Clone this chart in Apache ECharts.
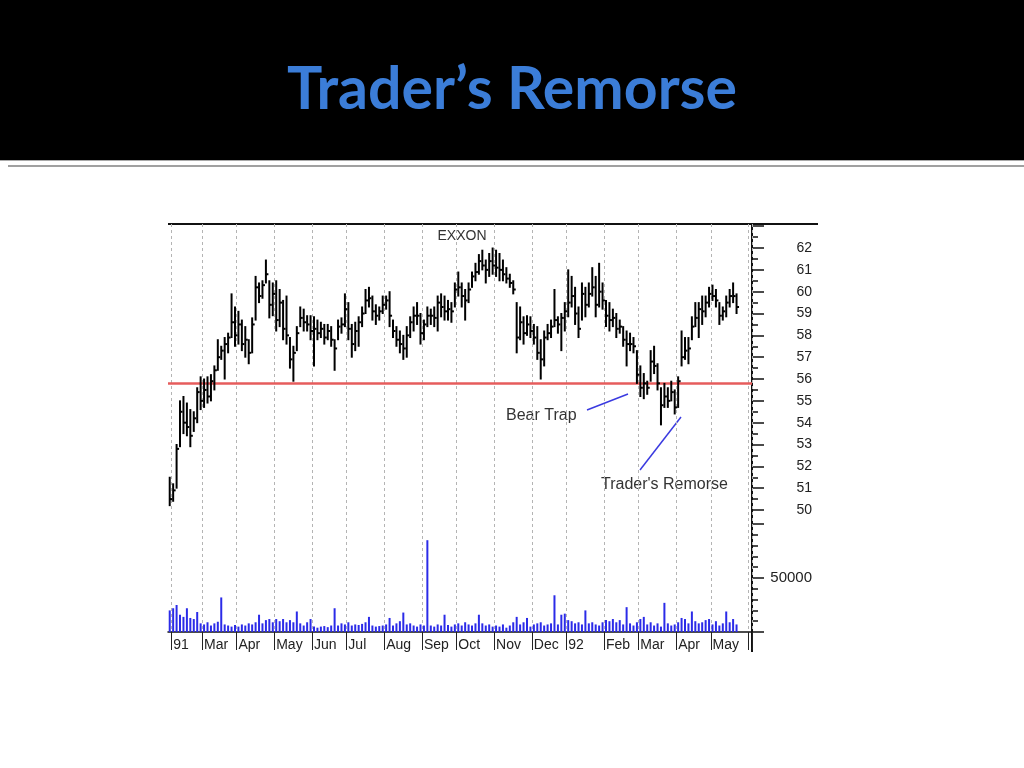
<!DOCTYPE html>
<html><head><meta charset="utf-8">
<script src="https://cdn.jsdelivr.net/npm/echarts@6/dist/echarts.min.js"></script>
<style>html,body{margin:0;padding:0;background:#fff}#c{width:1024px;height:768px}</style>
</head><body><div id="c"></div>
<script>
// ---- data ----
const monthLabels = ['91','Mar','Apr','May','Jun','Jul','Aug','Sep','Oct','Nov','Dec','92','Feb','Mar','Apr','May','.'];
const monthStartIdx = [1,10,20,31,42,52,63,74,84,95,106,116,127,137,148,158,169];
const priceTicks = [50,51,52,53,54,55,56,57,58,59,60,61,62];
const supportLevel = 55.8;

const highs = [51.5,51.2,53.0,55.0,55.2,54.9,54.6,54.5,55.6,56.1,56.0,56.1,56.2,56.6,57.8,57.5,57.9,58.1,59.9,59.3,
59.1,58.7,58.4,57.8,58.8,60.7,60.4,60.5,61.45,60.5,60.4,60.5,60.1,59.6,59.8,57.9,57.5,58.4,59.3,59.2,
58.9,58.9,58.85,58.7,58.6,58.5,58.5,58.4,57.8,58.7,58.8,59.9,59.5,58.5,58.6,58.85,59.3,60.1,60.2,59.8,
59.4,59.3,59.8,59.8,60.0,58.7,58.4,58.2,58.0,58.4,58.85,59.3,59.5,59.0,58.7,59.3,59.2,59.3,59.8,59.9,
59.8,59.6,59.5,60.4,60.9,60.4,60.1,60.4,60.9,61.3,61.7,61.9,61.45,61.75,62.0,61.9,61.75,61.45,61.1,60.8,
60.5,59.5,59.3,58.85,58.9,58.85,58.5,58.4,57.8,58.2,58.5,58.7,60.1,58.85,59.0,59.5,61.0,60.7,60.2,59.3,
60.4,60.2,60.4,61.1,60.7,61.3,60.4,59.6,59.5,59.2,59.0,58.7,58.4,58.2,58.1,57.9,57.3,56.6,56.25,55.9,
57.3,57.5,56.7,55.6,55.8,55.6,55.9,55.5,56.1,58.2,57.9,57.9,58.85,59.5,59.5,59.8,59.8,60.2,60.3,60.1,
59.5,59.3,59.8,60.1,60.4,59.9];
const lows = [50.2,50.4,51.0,52.9,53.5,53.4,52.9,53.6,54.0,54.6,54.7,54.9,55.0,55.5,56.4,56.9,56.0,57.2,57.9,57.5,
57.6,57.3,57.0,56.7,57.2,58.7,59.5,59.7,60.4,58.8,58.9,58.2,58.4,57.8,57.6,56.5,55.9,57.3,58.4,58.2,
58.2,57.8,56.6,57.8,57.9,57.6,57.8,57.5,56.4,57.8,58.1,58.4,57.8,57.0,57.3,57.5,58.4,59.0,59.3,58.7,
58.5,58.7,59.0,59.2,58.4,57.9,57.5,57.2,56.9,57.0,57.9,58.2,58.5,57.6,57.8,58.4,58.5,58.4,58.2,58.85,
58.7,58.7,58.6,59.3,59.8,59.3,58.7,59.5,60.2,60.5,60.8,61.0,60.4,60.7,60.8,60.7,60.5,60.5,60.4,60.2,
59.9,57.2,57.8,57.6,58.0,57.9,57.6,56.9,56.0,56.6,57.8,57.9,58.4,58.1,57.3,58.2,58.85,59.3,58.5,57.9,
58.7,58.85,59.3,59.8,58.85,59.3,59.2,58.4,58.2,58.4,57.9,58.1,57.5,56.6,57.3,57.2,55.8,55.2,55.1,55.3,
55.9,56.25,55.5,53.9,54.7,54.7,55.0,54.4,54.7,56.6,56.9,56.7,57.8,58.4,57.9,58.5,58.85,59.3,59.6,59.3,
58.5,58.7,58.85,59.3,59.5,59.0];
const closes = [50.5,50.9,52.8,54.5,54.0,53.8,53.4,54.2,55.4,55.0,55.5,55.2,55.9,56.4,57.0,57.3,57.6,57.9,58.6,58.0,
58.5,57.6,57.8,57.2,58.5,60.2,59.8,60.3,60.8,59.4,59.9,58.7,59.5,58.3,58.0,56.9,57.2,58.1,58.8,58.6,
58.5,58.2,58.3,58.1,58.3,57.9,58.2,57.8,57.4,58.4,58.5,59.2,58.3,57.6,58.2,58.6,59.0,59.6,59.7,59.1,
58.9,59.1,59.4,59.6,58.9,58.2,57.8,57.6,57.4,58.0,58.6,58.9,58.9,58.1,58.5,58.9,58.9,58.8,59.5,59.3,
59.1,59.2,59.1,60.1,60.2,59.8,59.6,60.1,60.7,60.9,61.4,61.2,61.0,61.4,61.2,61.1,61.0,60.8,60.6,60.4,
60.1,57.9,58.6,58.1,58.5,58.2,57.9,57.2,56.9,57.9,58.1,58.4,58.7,58.5,58.8,59.1,59.5,59.8,59.0,58.3,
59.9,59.4,59.9,60.2,59.4,60.0,59.6,58.9,58.7,58.8,58.3,58.4,57.8,57.6,57.6,57.5,56.2,55.6,55.8,55.6,
56.8,56.6,55.8,54.8,55.2,55.0,55.4,54.7,55.9,57.0,57.3,57.4,58.4,58.8,59.2,59.1,59.5,59.9,59.8,59.6,
58.9,59.1,59.5,59.8,59.8,59.3];
const volumes = [20000,22000,25000,16000,14000,22000,13000,12000,18500,8000,7000,9000,6000,8000,9500,32000,7000,6000,5000,6500,
5000,7000,6000,8000,7000,9000,16000,8000,11000,12000,9000,12000,10000,12000,9000,11000,9000,19000,8000,6000,
9000,12000,5000,4000,5000,5500,4500,6000,22000,6000,8000,7000,9000,6000,7000,6500,7500,9000,14000,6000,
5000,5500,6000,7000,13000,6000,8000,10000,18000,7000,8000,6000,5000,7000,6000,85000,6000,5000,7000,6000,
16000,6500,5000,7000,8000,6000,9000,7000,6000,8000,16000,8000,6000,7000,5000,6000,5000,7000,4000,6000,
9000,14000,7000,9000,13000,5000,7000,8000,9000,6000,7000,8000,34000,7000,16000,17000,11000,10000,8000,9000,
7000,20000,8000,9000,7000,6000,9000,11000,10000,12000,9000,11000,7000,23000,8000,6000,9000,12000,14000,7000,
9000,6000,8000,5000,27000,8000,6000,7000,9000,13000,12000,8000,19000,10000,8000,9000,11000,12000,7000,10000,
6000,8000,19000,9000,12000,7000];

// ---- layout ----
const slotCount = 170;
const categories = Array.from({length: slotCount}, (_, i) => 'd' + i);
const isMonthStart = (i) => monthStartIdx.indexOf(i) >= 0;
const hlc = highs.map((h, i) => [i, lows[i], h, closes[i]]);

const chart = echarts.init(document.getElementById('c'), null, {renderer: 'canvas'});
const txtFont = 'Liberation Sans, Arial, sans-serif';
const option = {
  animation: false,
  backgroundColor: '#fff',
  title: {
    text: 'Trader\u2019s Remorse', left: 'center', top: 55, z: 20,
    textStyle: {color: '#3b7dd8', fontFamily: 'Lato', fontWeight: 'bold', fontSize: 59}
  },
  graphic: [
    {type: 'rect', z: 0, shape: {x: 0, y: 0, width: 1024, height: 160}, style: {fill: '#000'}},
    {type: 'line', shape: {x1: 0, y1: 160.5, x2: 1024, y2: 160.5}, style: {stroke: '#aaa', lineWidth: 1}},
    {type: 'line', shape: {x1: 8, y1: 166, x2: 1024, y2: 166}, style: {stroke: '#808080', lineWidth: 1.5}},
    {type: 'line', shape: {x1: 168, y1: 224, x2: 818, y2: 224}, style: {stroke: '#111', lineWidth: 2}},
    {type: 'line', shape: {x1: 752, y1: 224, x2: 752, y2: 652}, style: {stroke: '#111', lineWidth: 2}},
    {type: 'text', x: 462, y: 236, style: {text: 'EXXON', fill: '#333', font: '14px ' + txtFont, textAlign: 'center', textVerticalAlign: 'middle', align: 'center', verticalAlign: 'middle'}},
    {type: 'text', x: 506, y: 416, style: {text: 'Bear Trap', fill: '#333', font: '16px ' + txtFont, textAlign: 'left', textVerticalAlign: 'middle', align: 'left', verticalAlign: 'middle'}},
    {type: 'text', x: 601, y: 485, style: {text: "Trader's Remorse", fill: '#333', font: '16px ' + txtFont, textAlign: 'left', textVerticalAlign: 'middle', align: 'left', verticalAlign: 'middle'}},
    {type: 'line', shape: {x1: 587, y1: 410, x2: 628, y2: 394}, style: {stroke: '#3a3ae0', lineWidth: 1.5}},
    {type: 'line', shape: {x1: 640, y1: 470, x2: 681, y2: 417}, style: {stroke: '#3a3ae0', lineWidth: 1.5}}
  ],
  grid: [
    {left: 168, top: 226.2, width: 584, height: 283.8},
    {left: 168, top: 524, width: 584, height: 108},
    {left: 168, top: 224, width: 584, height: 408}
  ],
  xAxis: [
    {type: 'category', gridIndex: 0, data: categories, boundaryGap: true, show: false},
    {type: 'category', gridIndex: 1, data: categories, boundaryGap: true, show: false},
    {type: 'category', gridIndex: 2, data: categories, boundaryGap: true, z: 1,
      axisLine: {show: true, lineStyle: {color: '#111', width: 1.5}},
      axisTick: {show: true, interval: (i) => isMonthStart(i), length: 18, lineStyle: {color: '#222', width: 1}},
      axisLabel: {show: true, interval: (i) => isMonthStart(i), align: 'left', margin: 6, fontSize: 14,
        color: '#222', fontFamily: txtFont,
        formatter: (v, i) => { const k = monthStartIdx.indexOf(i); return k >= 0 ? monthLabels[k] : ''; }},
      splitLine: {show: true, interval: (i) => isMonthStart(i), lineStyle: {color: '#b4b4b4', type: [3, 3], width: 1}}
    }
  ],
  yAxis: [
    {type: 'value', gridIndex: 0, position: 'right', min: 50, max: 63, interval: 1,
      axisLine: {show: false},
      axisTick: {show: true, length: 12, lineStyle: {color: '#111', width: 1.5}},
      minorTick: {show: true, splitNumber: 2, length: 6, lineStyle: {color: '#111', width: 1.5}},
      axisLabel: {align: 'right', margin: 60, fontSize: 14, color: '#222', fontFamily: txtFont,
        formatter: (v) => priceTicks.indexOf(v) >= 0 ? String(v) : ''},
      splitLine: {show: false}},
    {type: 'value', gridIndex: 1, position: 'right', min: 0, max: 100000, interval: 50000,
      axisLine: {show: false},
      axisTick: {show: true, length: 12, lineStyle: {color: '#111', width: 1.5}},
      minorTick: {show: true, splitNumber: 5, length: 6, lineStyle: {color: '#111', width: 1.5}},
      axisLabel: {align: 'right', margin: 60, fontSize: 15, color: '#222', fontFamily: txtFont,
        formatter: (v) => v === 50000 ? '50000' : ''},
      splitLine: {show: false}},
    {type: 'value', gridIndex: 2, show: false, min: 0, max: 1}
  ],
  series: [
    {type: 'custom', xAxisIndex: 0, yAxisIndex: 0, data: hlc, z: 5,
      encode: {x: 0, y: [1, 2, 3]},
      renderItem: (params, api) => {
        const x = api.value(0);
        const lo = api.coord([x, api.value(1)]);
        const hi = api.coord([x, api.value(2)]);
        const cl = api.coord([x, api.value(3)]);
        return {type: 'group', children: [
          {type: 'line', shape: {x1: lo[0], y1: lo[1] + 0.5, x2: hi[0], y2: hi[1] - 0.5}, style: {stroke: '#000', lineWidth: 2}},
          {type: 'line', shape: {x1: cl[0], y1: cl[1], x2: cl[0] + 2.5, y2: cl[1]}, style: {stroke: '#000', lineWidth: 2}}
        ]};
      },
      markLine: {silent: true, symbol: ['none', 'none'], label: {show: false},
        lineStyle: {color: '#e65c5c', width: 2.5, type: 'solid'},
        data: [{yAxis: supportLevel}]}
    },
    {type: 'bar', xAxisIndex: 1, yAxisIndex: 1, data: volumes, barWidth: 2,
      itemStyle: {color: '#2b2be8'}}
  ]
};
chart.setOption(option);
</script></body></html>
